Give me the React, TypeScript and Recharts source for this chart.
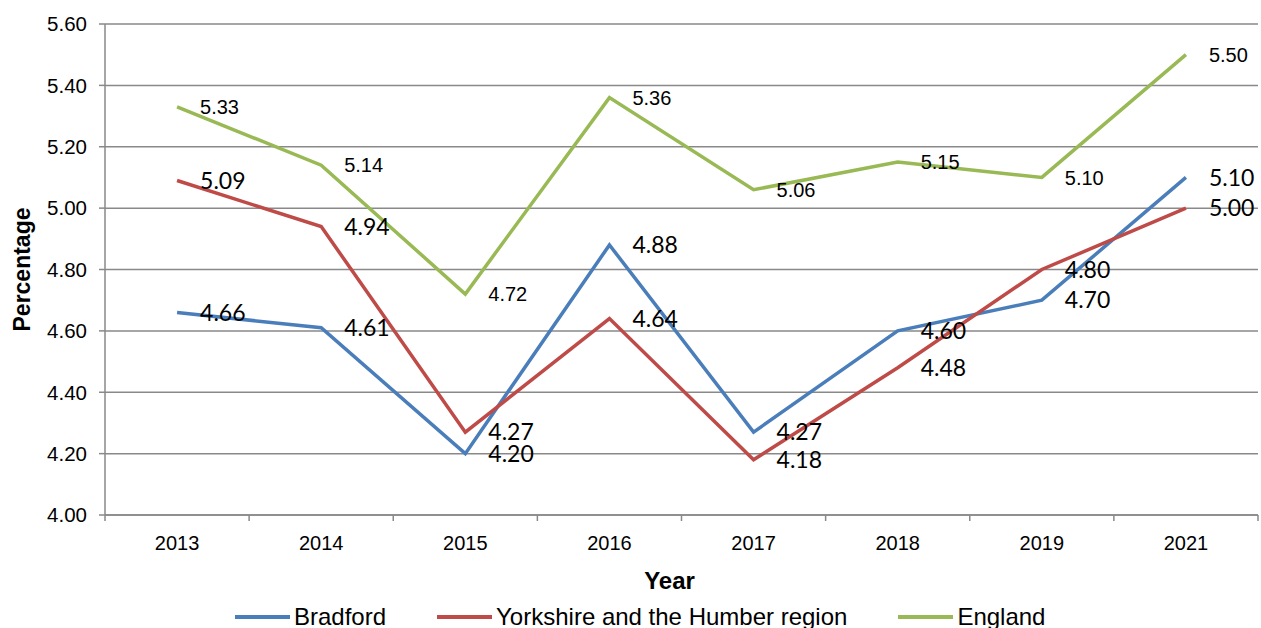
import { LineChart, Line, XAxis, YAxis, CartesianGrid, LabelList } from 'recharts'

const YEARS = ['2013', '2014', '2015', '2016', '2017', '2018', '2019', '2021']
const BRADFORD = [4.66, 4.61, 4.2, 4.88, 4.27, 4.6, 4.7, 5.1]
const YORKSHIRE = [5.09, 4.94, 4.27, 4.64, 4.18, 4.48, 4.8, 5.0]
const ENGLAND = [5.33, 5.14, 4.72, 5.36, 5.06, 5.15, 5.1, 5.5]
const Y_TICKS = [4.0, 4.2, 4.4, 4.6, 4.8, 5.0, 5.2, 5.4, 5.6]

const SERIES = [
  { key: 'bradford', name: 'Bradford', color: '#4a7ebb' },
  { key: 'yorkshire', name: 'Yorkshire and the Humber region', color: '#be4b48' },
  { key: 'england', name: 'England', color: '#98b954' },
]

const data = YEARS.map((year, i) => ({
  year,
  bradford: BRADFORD[i],
  yorkshire: YORKSHIRE[i],
  england: ENGLAND[i],
}))

const WIDTH = 1261
const HEIGHT = 628
const MARGIN = { top: 24, right: 3, bottom: 0, left: 0 }
const Y_AXIS_WIDTH = 105
const PLOT_WIDTH = WIDTH - MARGIN.left - MARGIN.right - Y_AXIS_WIDTH
const HALF_BAND = PLOT_WIDTH / YEARS.length / 2
const GRID = '#898989'
const ARIAL = '"Liberation Sans", Arial, sans-serif'
const CALIBRI = 'Lato, Calibri, sans-serif'
const TICK_SIZE = 6
const TICK_MARGIN = 15

const fmt = (v: number) => v.toFixed(2)

// year labels, with the tick marks drawn at the edges of each category
function YearTick(props: any) {
  const { x, y, payload, index, visibleTicksCount } = props
  const axisY = y - TICK_SIZE - TICK_MARGIN
  const last = index === visibleTicksCount - 1
  return (
    <g>
      <line x1={x - HALF_BAND} x2={x - HALF_BAND} y1={axisY} y2={axisY + TICK_SIZE} stroke={GRID} strokeWidth={1.5} />
      {last && (
        <line x1={x + HALF_BAND} x2={x + HALF_BAND} y1={axisY} y2={axisY + TICK_SIZE} stroke={GRID} strokeWidth={1.5} />
      )}
      <text x={x} y={y} dy="0.71em" textAnchor="middle" fontSize={20} fontFamily={ARIAL} fill="#000">
        {payload.value}
      </text>
    </g>
  )
}

export default function App() {
  return (
    <div style={{ position: 'absolute', left: 0, top: 0, width: WIDTH, height: HEIGHT, background: '#fff', overflow: 'hidden' }}>
      <LineChart width={WIDTH} height={HEIGHT} data={data} margin={MARGIN}>
        <CartesianGrid vertical={false} stroke={GRID} strokeWidth={1.5} />
        <XAxis
          dataKey="year"
          height={HEIGHT - 515}
          padding={{ left: HALF_BAND, right: HALF_BAND }}
          stroke={GRID}
          strokeWidth={1.5}
          tickLine={false}
          tickSize={TICK_SIZE}
          tickMargin={TICK_MARGIN}
          tick={<YearTick />}
          interval={0}
          label={{
            value: 'Year',
            position: 'insideTop',
            offset: 57,
            dx: -12,
            style: { fontSize: 24, fontWeight: 'bold', fontFamily: ARIAL, fill: '#000' },
          }}
        />
        <YAxis
          width={Y_AXIS_WIDTH}
          domain={[4, 5.6]}
          ticks={Y_TICKS}
          tickFormatter={fmt}
          stroke={GRID}
          strokeWidth={1.5}
          tickSize={6}
          tickMargin={12}
          tick={{ fontSize: 20.5, fontFamily: ARIAL, fill: '#000' }}
          label={{
            value: 'Percentage',
            angle: -90,
            position: 'insideLeft',
            offset: 22,
            style: { textAnchor: 'middle', fontSize: 23, fontWeight: 'bold', fontFamily: ARIAL, fill: '#000' },
          }}
        />
        {SERIES.map((s) => (
          <Line
            key={s.key}
            dataKey={s.key}
            name={s.name}
            stroke={s.color}
            strokeWidth={3.5}
            dot={false}
            activeDot={false}
            isAnimationActive={false}
          >
            <LabelList
              dataKey={s.key}
              position="right"
              offset={23}
              formatter={(v: any) => fmt(Number(v))}
              style={
                s.key === 'england'
                  ? { fontSize: 20, fontFamily: ARIAL, fill: '#000' }
                  : { fontSize: 23, fontFamily: CALIBRI, fill: '#000' }
              }
            />
          </Line>
        ))}
      </LineChart>

      {/* legend */}
      <div
        style={{
          position: 'absolute',
          left: 235,
          top: 605,
          display: 'flex',
          alignItems: 'center',
          gap: 51,
          fontFamily: ARIAL,
          fontSize: 24,
          lineHeight: '24px',
          whiteSpace: 'nowrap',
        }}
      >
        {SERIES.map((s) => (
          <div key={s.key} style={{ display: 'flex', alignItems: 'center' }}>
            <span style={{ display: 'inline-block', width: 55, height: 4, background: s.color, marginRight: 4 }} />
            <span>{s.name}</span>
          </div>
        ))}
      </div>
    </div>
  )
}
